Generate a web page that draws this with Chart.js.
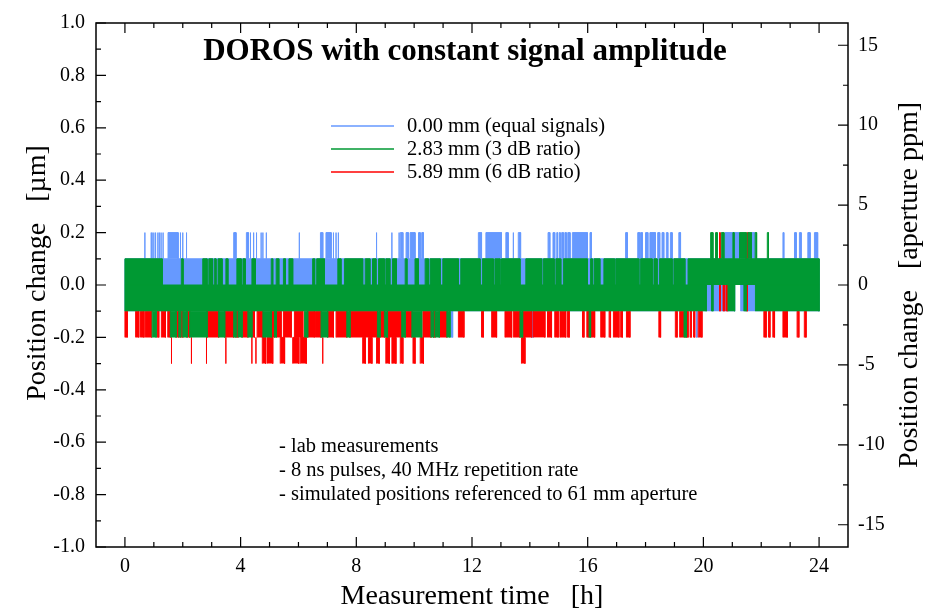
<!DOCTYPE html>
<html>
<head>
<meta charset="utf-8">
<script src="https://cdn.jsdelivr.net/npm/chart.js@4.4.1/dist/chart.umd.min.js"></script>
<style>
  html, body { margin: 0; padding: 0; background: #ffffff; }
  canvas { display: block; }
</style>
</head>
<body>
<canvas id="c" width="927" height="613"></canvas>
<script>
// ---------------- DATA ----------------
const timeTicks = [0, 4, 8, 12, 16, 20, 24];                       // h
const posTicks  = [-1.0, -0.8, -0.6, -0.4, -0.2, 0.0, 0.2, 0.4, 0.6, 0.8, 1.0]; // µm
const ppmTicks  = [-15, -10, -5, 0, 5, 10, 15];                    // aperture ppm
const apertureMm = 61;

const seriesNames = ['0.00 mm (equal signals)', '2.83 mm (3 dB ratio)', '5.89 mm (6 dB ratio)'];
const noteLines = ['- lab measurements', '- 8 ns pulses, 40 MHz repetition rate', '- simulated positions referenced to 61 mm aperture'];

// Time intervals [t0, t1] in hours during which each trace occupies a 0.1 µm level band
// 0.00 mm (blue)
const blueCore = [[0, 21.08], [21.29, 24.0]];                       // -0.1 .. +0.1
const blueUp = [[0.69,0.69],[0.91,0.91],[0.94,0.94],[1.0,1.0],[1.06,1.06],[1.14,1.14],[1.19,1.19],[1.25,1.25],[1.32,1.32],
  [1.49,1.84],[1.92,1.92],[2.0,2.0],[2.13,2.13],[3.76,3.84],[4.2,4.27],[4.34,4.34],[4.45,4.45],[4.55,4.55],
  [4.71,4.71],[4.77,4.77],[4.89,4.89],[6.03,6.03],[6.76,6.84],[6.95,7.13],[7.21,7.21],[7.3,7.3],[7.38,7.38],[8.7,8.7],[9.23,9.23],[9.48,9.48],
  [9.52,9.61],[9.72,9.8],[9.86,10.03],[10.15,10.21],[10.26,10.32],[12.22,12.33],[12.48,13.02],[13.17,13.25],[13.43,13.43],[13.6,13.68],
  [14.63,14.69],[14.8,14.86],[14.93,14.96],[15.02,15.05],[15.1,15.16],[15.21,15.26],[15.31,15.39],[15.47,15.99],[16.08,16.13],
  [17.31,17.37],[17.73,17.8],[17.83,17.89],[18.0,18.08],[18.15,18.34],[18.42,18.49],[18.57,18.63],[18.72,18.77],[18.86,18.92],[19.15,19.21],
  [20.74,21.25],[21.66,21.77],[22.75,22.78],[23.15,23.21],[23.32,23.38],[23.61,23.69],[23.84,23.95]];   // +0.1 .. +0.2
const blueDown = [[11.27,11.33],[14.06,14.11],[19.76,19.78]];        // -0.2 .. -0.1

// 2.83 mm (green)
const greenCore = [[0,20.1],[20.28,20.33],[20.85,21.08],[21.4,21.48],[21.8,24.0]];   // -0.1 .. 0
const greenTop = [[0,1.29],[1.95,2.01],[2.69,2.84],[2.9,3.03],[3.09,3.15],[3.22,3.36],[3.49,3.56],[3.87,4.02],[4.08,4.16],[4.39,4.51],
  [5.06,5.11],[5.23,5.32],[5.48,5.55],[5.67,5.8],[6.49,6.56],[6.63,6.9],[7.36,7.47],[7.59,8.22],[8.31,8.47],[8.56,8.68],[8.77,8.97],[9.02,9.16],[9.25,9.39],
  [9.69,9.75],[10.03,10.15],[10.38,10.49],[10.55,10.9],[10.99,11.53],[11.61,12.28],[12.36,12.74],[12.79,12.97],[13.02,13.66],[13.86,14.41],
  [14.47,14.84],[14.9,15.07],[15.16,15.99],[16.1,16.16],[16.22,16.42],[16.56,16.93],[16.97,17.77],[17.83,18.23],[18.29,18.4],[18.48,18.92],[18.98,19.36],
  [19.47,24.0]];                                                       // 0 .. +0.1
const greenUp = [[20.25,20.33],[20.42,20.48],[20.62,20.71],[21.02,21.06],[21.25,21.48],[21.54,21.66],[21.79,21.84],[22.21,22.25]]; // +0.1 .. +0.2
const greenLow = [[0.94,1.08],[1.57,1.77],[1.86,1.93],[2.0,2.15],[2.24,2.84],[3.24,3.45],[3.76,3.84],[3.91,4.05],[4.25,4.39],
  [4.77,5.06],[5.17,5.23],[6.21,6.32],[6.78,7.01],[7.67,7.78],[8.73,8.82],[8.97,9.08],
  [9.57,9.69],[9.92,10.26],[10.58,10.67],[10.72,10.87],[11.13,11.24],[13.66,13.75],[16.05,16.1],[19.33,19.41]];  // -0.2 .. -0.1

// 5.89 mm (red)
const redLow = [[0,0.08],[0.37,0.48],[0.54,0.66],[0.71,0.92],[1.11,1.17],[1.26,1.4],[1.48,1.57],[1.77,1.86],[1.93,2.0],[2.15,2.24],[2.84,3.24],[3.45,3.76],[3.84,3.91],[4.05,4.25],[4.39,4.48],[4.57,4.75],
  [5.06,5.17],[5.23,5.4],[5.48,5.75],[5.86,6.15],[6.32,6.55],[6.59,6.78],[7.01,7.21],[7.3,7.67],[7.78,8.73],[8.82,8.97],[9.08,9.57],
  [9.69,9.92],[10.3,10.58],[10.67,10.72],[10.87,11.13],[11.53,11.72],[12.33,12.39],[12.68,12.85],[13.14,13.37],[13.43,13.66],[13.75,14.06],[14.11,14.52],
  [14.61,14.75],[14.86,14.98],[15.04,15.24],[15.3,15.36],[15.82,15.87],[15.97,16.05],[16.1,16.24],[16.45,16.59],[16.74,16.79],[16.89,17.08],[17.14,17.2],[17.34,17.46],[18.46,18.52],[19.03,19.09],[19.18,19.47],
  [19.54,19.58],[19.66,19.7],[19.82,19.95],[22.09,22.17],[22.25,22.3],[22.4,22.46],[22.75,22.9],[23.24,23.3],[23.49,23.55]];  // -0.2 .. -0.1
const redDown = [[1.61,1.61],[2.3,2.3],[2.82,2.82],[3.49,3.49],[4.39,4.39],[4.53,4.53],
  [4.75,4.86],[4.91,5.11],[5.37,5.52],[5.8,6.01],[6.06,6.27],[6.84,6.84],[8.22,8.31],[8.42,8.54],[8.7,8.79],[9.02,9.14],[9.23,9.37],
  [9.52,9.61],[9.96,10.03],[10.21,10.32],[13.71,13.83]];              // -0.3 .. -0.2
const redCore = [[20.56,20.58],[20.68,20.72],[20.78,20.83],[21.5,21.52]];   // -0.1 .. 0
const redUp = [[20.56,20.58],[21.5,21.52]];                                  // +0.1 .. +0.2

// ---------------- BUILD ----------------
const COLORS = ['#6699ff', '#009933', '#ff0000'];
const FONT = '"Liberation Serif", "Times New Roman", serif';

function bandDataset(intervals, lo, hi, color, order) {
  const pts = [];
  intervals.forEach(([a, b]) => {
    pts.push({x: a, y: lo}, {x: a, y: hi}, {x: b, y: hi}, {x: b, y: lo}, {x: b, y: null});
  });
  return {
    data: pts, borderColor: color, backgroundColor: color, borderWidth: 1,
    pointRadius: 0, tension: 0, spanGaps: false, fill: {value: lo}, order: order,
    xAxisID: 'x', yAxisID: 'y'
  };
}

const datasets = [
  bandDataset(greenCore, -0.1, 0.0, COLORS[1], 0),
  bandDataset(greenTop, 0.0, 0.1, COLORS[1], 0),
  bandDataset(greenUp, 0.1, 0.2, COLORS[1], 0),
  bandDataset(greenLow, -0.2, -0.1, COLORS[1], 0),
  bandDataset(redLow, -0.2, -0.1, COLORS[2], 1),
  bandDataset(redDown, -0.3, -0.2, COLORS[2], 1),
  bandDataset(redCore, -0.1, 0.0, COLORS[2], 1),
  bandDataset(redUp, 0.1, 0.2, COLORS[2], 1),
  bandDataset(blueCore, -0.1, 0.1, COLORS[0], 2),
  bandDataset(blueUp, 0.1, 0.2, COLORS[0], 2),
  bandDataset(blueDown, -0.2, -0.1, COLORS[0], 2)
];

function minorValues(majors, parts) {
  const out = [];
  for (let i = 0; i < majors.length - 1; i++) {
    const step = (majors[i + 1] - majors[i]) / parts;
    for (let k = 1; k < parts; k++) out.push(majors[i] + k * step);
  }
  return out;
}

const framePlugin = {
  id: 'frame',
  afterDraw(chart) {
    const {ctx, chartArea: a, scales} = chart;
    ctx.save();
    ctx.strokeStyle = '#000';
    ctx.lineWidth = 1.5;
    ctx.strokeRect(a.left, a.top, a.right - a.left, a.bottom - a.top);
    ctx.lineWidth = 1.2;
    ctx.beginPath();
    // x ticks (bottom and top)
    timeTicks.forEach(v => {
      const p = scales.x.getPixelForValue(v);
      ctx.moveTo(p, a.bottom); ctx.lineTo(p, a.bottom - 10);
      ctx.moveTo(p, a.top); ctx.lineTo(p, a.top + 10);
    });
    minorValues(timeTicks, 4).forEach(v => {
      const p = scales.x.getPixelForValue(v);
      ctx.moveTo(p, a.bottom); ctx.lineTo(p, a.bottom - 5);
      ctx.moveTo(p, a.top); ctx.lineTo(p, a.top + 5);
    });
    // left y ticks
    posTicks.forEach(v => {
      const p = scales.y.getPixelForValue(v);
      ctx.moveTo(a.left, p); ctx.lineTo(a.left + 10, p);
    });
    minorValues(posTicks, 2).forEach(v => {
      const p = scales.y.getPixelForValue(v);
      ctx.moveTo(a.left, p); ctx.lineTo(a.left + 5, p);
    });
    // right ppm ticks
    ppmTicks.forEach(v => {
      const p = scales.y1.getPixelForValue(v);
      ctx.moveTo(a.right, p); ctx.lineTo(a.right - 10, p);
    });
    minorValues(ppmTicks, 2).forEach(v => {
      const p = scales.y1.getPixelForValue(v);
      ctx.moveTo(a.right, p); ctx.lineTo(a.right - 5, p);
    });
    ctx.stroke();

    // title
    ctx.fillStyle = '#000';
    ctx.textAlign = 'center';
    ctx.textBaseline = 'middle';
    ctx.font = 'bold 31px ' + FONT;
    ctx.fillText('DOROS with constant signal amplitude', 465, 52);

    // legend
    ctx.font = '20.5px ' + FONT;
    ctx.textAlign = 'left';
    seriesNames.forEach((name, i) => {
      const y = 126 + i * 23;
      ctx.strokeStyle = COLORS[i];
      ctx.lineWidth = 1.5;
      ctx.beginPath(); ctx.moveTo(331, y); ctx.lineTo(394, y); ctx.stroke();
      ctx.fillStyle = '#000';
      ctx.fillText(name, 407, y + 1);
    });

    // notes
    noteLines.forEach((t, i) => ctx.fillText(t, 279, 447 + i * 24));

    // axis titles (rotated, reading upward)
    ctx.font = '28px ' + FONT;
    ctx.textAlign = 'center';
    [[38, 273, 'Position change   [µm]'], [910, 285, 'Position change   [aperture ppm]']].forEach(([x, y, t]) => {
      ctx.save();
      ctx.translate(x, y);
      ctx.rotate(-Math.PI / 2);
      ctx.fillText(t, 0, 0);
      ctx.restore();
    });
    ctx.restore();
  }
};

const tickFont = {family: FONT, size: 20};
const ppmPerMicron = 1000 / apertureMm;

new Chart(document.getElementById('c'), {
  type: 'line',
  data: {datasets},
  options: {
    responsive: false,
    animation: false,
    events: [],
    layout: {padding: {top: 13, left: 0, right: 0, bottom: 0}},
    plugins: {legend: {display: false}, tooltip: {enabled: false}, title: {display: false}},
    scales: {
      x: {
        type: 'linear', position: 'bottom', min: -1, max: 25,
        grid: {display: false, drawTicks: false}, border: {display: false},
        afterBuildTicks: s => { s.ticks = timeTicks.map(v => ({value: v})); },
        afterFit: s => { s.height = 66; },
        ticks: {font: tickFont, color: '#000', padding: 8, maxRotation: 0, autoSkip: false, callback: v => String(v)},
        title: {display: true, text: 'Measurement time   [h]', color: '#000', font: {family: FONT, size: 28}, padding: {top: 0, bottom: 0}}
      },
      y: {
        type: 'linear', position: 'left', min: -1, max: 1,
        grid: {display: false, drawTicks: false}, border: {display: false},
        afterBuildTicks: s => { s.ticks = posTicks.map(v => ({value: v})); },
        afterFit: s => { s.width = 96; },
        ticks: {font: tickFont, color: '#000', padding: 11, autoSkip: false, callback: v => Number(v).toFixed(1)}
      },
      y1: {
        type: 'linear', position: 'right', min: -ppmPerMicron, max: ppmPerMicron,
        grid: {display: false, drawTicks: false}, border: {display: false},
        afterBuildTicks: s => { s.ticks = ppmTicks.map(v => ({value: v})); },
        afterFit: s => { s.width = 79; },
        ticks: {font: tickFont, color: '#000', padding: 10, autoSkip: false, callback: v => String(v)}
      }
    }
  },
  plugins: [framePlugin]
});
</script>
</body>
</html>
